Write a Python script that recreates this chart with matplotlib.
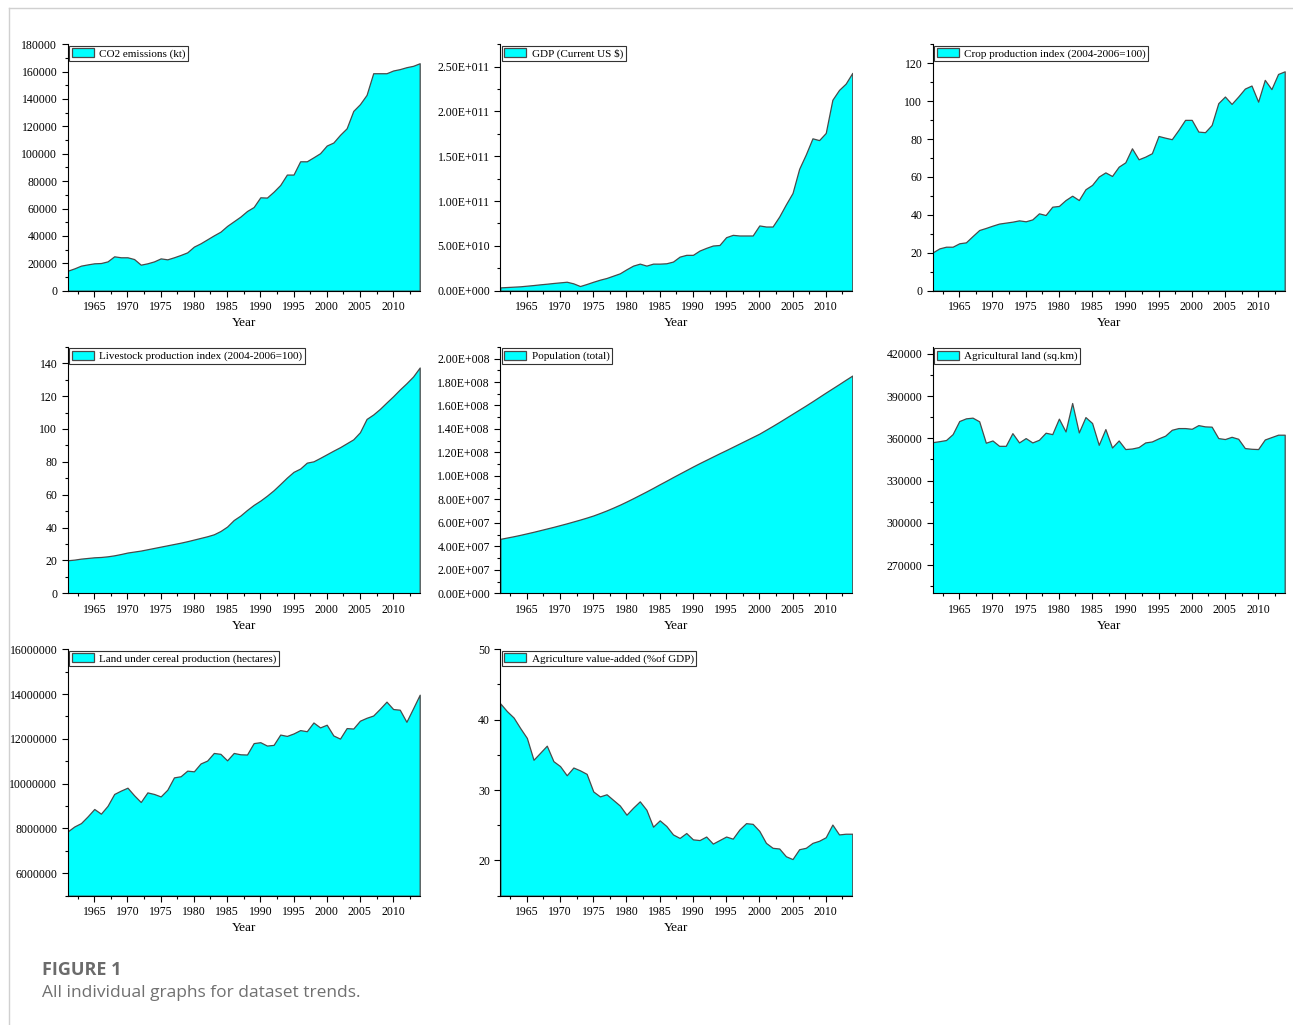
import matplotlib
matplotlib.use("Agg")
import matplotlib.pyplot as plt
from matplotlib.ticker import MultipleLocator, FuncFormatter
from matplotlib.lines import Line2D

years = list(range(1961, 2015))

co2 = [14600, 16300, 18300, 19200, 20000, 20200, 21400, 25100, 24400, 24400,
       23100, 19000, 20000, 21400, 23600, 22900, 24400, 26100, 28000, 32200,
       34600, 37500, 40400, 43100, 47300, 50700, 54100, 58200, 61100, 68200,
       68000, 72300, 77200, 84800, 84800, 94500, 94500, 97400, 100400, 106000,
       108200, 113800, 118600, 131300, 136200, 143000, 158800, 158800, 158800, 160800,
       161800, 163200, 164200, 166100]

gdp = [3.7e9, 4.1e9, 4.5e9, 4.9e9, 5.6e9, 6.3e9, 7.1e9, 7.8e9, 8.6e9, 9.3e9,
       1.0e10, 8.2e9, 5.2e9, 7.5e9, 1.0e10, 1.23e10, 1.42e10, 1.68e10, 1.94e10, 2.39e10,
       2.80e10, 3.02e10, 2.80e10, 3.02e10, 3.02e10, 3.06e10, 3.25e10, 3.80e10, 4.00e10, 4.00e10,
       4.48e10, 4.78e10, 5.04e10, 5.10e10, 5.97e10, 6.23e10, 6.16e10, 6.16e10, 6.16e10, 7.28e10,
       7.16e10, 7.16e10, 8.28e10, 9.63e10, 1.09e11, 1.36e11, 1.52e11, 1.70e11, 1.68e11, 1.76e11,
       2.13e11, 2.24e11, 2.31e11, 2.43e11]

crop = [20.2, 22.3, 23.2, 23.2, 25.0, 25.5, 28.8, 32.0, 33.1, 34.3,
        35.4, 35.9, 36.4, 37.1, 36.6, 37.6, 40.8, 39.9, 44.3, 44.7,
        47.8, 50.1, 47.8, 53.5, 55.8, 60.2, 62.4, 60.5, 65.4, 67.7,
        75.1, 69.3, 70.7, 72.5, 81.6, 80.7, 79.9, 84.8, 90.1, 90.1,
        83.9, 83.6, 87.4, 98.9, 102.4, 98.5, 102.4, 106.6, 108.2, 99.7,
        111.2, 106.3, 114.3, 115.7]

livestock = [20.1, 20.5, 21.1, 21.5, 21.9, 22.1, 22.5, 23.1, 23.9, 24.8,
             25.4, 26.0, 26.8, 27.6, 28.4, 29.2, 30.0, 30.8, 31.7, 32.7,
             33.7, 34.7, 35.9, 37.9, 40.6, 44.6, 47.3, 50.7, 53.8, 56.4,
             59.4, 62.7, 66.5, 70.4, 73.9, 75.9, 79.5, 80.3, 82.4, 84.6,
             86.8, 88.9, 91.3, 93.7, 98.0, 106.1, 108.8, 112.2, 116.1, 119.9,
             124.0, 127.8, 131.9, 137.4]

population = [46.4e6, 47.5e6, 48.6e6, 49.8e6, 51.1e6, 52.4e6, 53.8e6, 55.2e6, 56.6e6, 58.1e6,
              59.6e6, 61.2e6, 62.8e6, 64.5e6, 66.3e6, 68.4e6, 70.6e6, 73.0e6, 75.5e6, 78.2e6,
              81.0e6, 83.9e6, 86.8e6, 89.8e6, 92.9e6, 95.9e6, 99.0e6, 102.0e6, 105.0e6, 108.0e6,
              110.9e6, 113.7e6, 116.5e6, 119.3e6, 122.0e6, 124.8e6, 127.6e6, 130.4e6, 133.2e6, 136.0e6,
              139.3e6, 142.6e6, 146.0e6, 149.5e6, 153.0e6, 156.5e6, 160.0e6, 163.6e6, 167.3e6, 171.0e6,
              174.6e6, 178.2e6, 181.9e6, 185.5e6]

agri_land = [357300, 358000, 358800, 363000, 372300, 374200, 374700, 372100, 356900, 358500,
             354700, 354700, 363700, 357100, 360200, 357100, 359000, 364000, 363000, 374000,
             364900, 385100, 364200, 375100, 370900, 355400, 366600, 353500, 358500, 352400,
             352800, 353800, 357100, 357800, 360000, 361900, 366100, 367300, 367300, 366800,
             369400, 368500, 368300, 360200, 359500, 361100, 359700, 353100, 352600, 352400,
             359200, 360900, 362600, 362600]

cereal = [7.87e6, 8.09e6, 8.24e6, 8.54e6, 8.87e6, 8.66e6, 9.01e6, 9.54e6, 9.69e6, 9.82e6,
          9.48e6, 9.18e6, 9.61e6, 9.54e6, 9.43e6, 9.73e6, 10.28e6, 10.33e6, 10.58e6, 10.55e6,
          10.90e6, 11.03e6, 11.37e6, 11.33e6, 11.04e6, 11.37e6, 11.31e6, 11.30e6, 11.81e6, 11.85e6,
          11.70e6, 11.73e6, 12.19e6, 12.13e6, 12.24e6, 12.39e6, 12.34e6, 12.73e6, 12.51e6, 12.63e6,
          12.15e6, 12.01e6, 12.48e6, 12.46e6, 12.81e6, 12.94e6, 13.04e6, 13.34e6, 13.66e6, 13.33e6,
          13.30e6, 12.76e6, 13.36e6, 13.97e6]

agri_va = [42.3, 41.2, 40.3, 38.8, 37.4, 34.3, 35.3, 36.3, 34.1, 33.4,
           32.1, 33.2, 32.8, 32.3, 29.8, 29.1, 29.4, 28.6, 27.8, 26.5,
           27.5, 28.4, 27.2, 24.8, 25.7, 24.9, 23.7, 23.2, 23.9, 23.0,
           22.9, 23.4, 22.4, 22.9, 23.4, 23.1, 24.4, 25.3, 25.2, 24.2,
           22.5, 21.8, 21.7, 20.6, 20.2, 21.6, 21.8, 22.5, 22.8, 23.3,
           25.1, 23.7, 23.8, 23.8]

labels = ["CO2 emissions (kt)", "GDP (Current US $)", "Crop production index (2004-2006=100)",
          "Livestock production index (2004-2006=100)", "Population (total)", "Agricultural land (sq.km)",
          "Land under cereal production (hectares)", "Agriculture value-added (%of GDP)"]


def sci_fmt(v, pos):
    if v == 0:
        return "0.00E+000"
    s = "%.2E" % v
    m, e = s.split("E")
    return "%sE%s%03d" % (m, e[0], abs(int(e[1:])))


# (series, ylim, major ticks, minor step, sci formatter)
panels = [
    (co2, (0, 180000), range(0, 180001, 20000), 10000, False),
    (gdp, (0, 2.75e11), [0, 5e10, 1e11, 1.5e11, 2e11, 2.5e11], 2.5e10, True),
    (crop, (0, 130), range(0, 121, 20), 10, False),
    (livestock, (0, 150), range(0, 141, 20), 10, False),
    (population, (0, 2.1e8), [k * 2e7 for k in range(11)], 1e7, True),
    (agri_land, (250000, 425000), range(270000, 420001, 30000), 15000, False),
    (cereal, (5e6, 16e6), [6e6, 8e6, 10e6, 12e6, 14e6, 16e6], 1e6, False),
    (agri_va, (15, 50), [20, 30, 40, 50], 5, False),
]

plt.rcParams['font.family'] = ['Liberation Serif', 'DejaVu Serif']

fig = plt.figure(figsize=(12.93, 10.25), dpi=100)

lefts = [67.7, 500.3, 932.7]
bottoms = [290.7, 593.3, 895.7]
W, H = 1293.0, 1025.0

for i, (vals, ylim, ticks, minor, sci) in enumerate(panels):
    r, c = divmod(i, 3)
    ax = fig.add_axes([lefts[c] / W, 1 - bottoms[r] / H, 352 / W, 246.5 / H])
    ax.fill_between(years, vals, ylim[0], facecolor='#00ffff', edgecolor='#4a4a4a',
                    linewidth=0.9, label=labels[i].replace('$', r'\$'))
    ax.set_xlim(1961, 2014)
    ax.set_ylim(*ylim)
    ax.spines['top'].set_visible(False)
    ax.spines['right'].set_visible(False)
    ax.xaxis.set_major_locator(MultipleLocator(5))
    ax.xaxis.set_minor_locator(MultipleLocator(2.5))
    ax.set_yticks(list(ticks))
    ax.yaxis.set_minor_locator(MultipleLocator(minor))
    if sci:
        ax.yaxis.set_major_formatter(FuncFormatter(sci_fmt))
    else:
        ax.yaxis.set_major_formatter(FuncFormatter(lambda v, p: "%d" % round(v)))
    ax.tick_params(which='major', direction='out', length=4, width=0.8, labelsize=8.5)
    ax.tick_params(which='minor', direction='out', length=2.5, width=0.8)
    ax.set_xlabel("Year", fontsize=9.5, labelpad=3)
    leg = ax.legend(loc='upper left', fontsize=8, fancybox=False, framealpha=1,
                    edgecolor='#333333', borderaxespad=0.15, handlelength=2.0,
                    handleheight=0.9, borderpad=0.2, handletextpad=0.5)
    leg.get_frame().set_linewidth(0.8)

fig.add_artist(Line2D([9 / W, 1], [1 - 8 / H, 1 - 8 / H], color='#d0d0d0', lw=1))
fig.add_artist(Line2D([9 / W, 9 / W], [0, 1 - 8 / H], color='#d0d0d0', lw=1))

fig.text(42 / W, 1 - 970 / H, "FIGURE 1", fontsize=13, fontweight='bold', color='#6b6b6b',
         family=['Open Sans', 'DejaVu Sans'], va='center')
fig.text(42 / W, 1 - 993 / H, "All individual graphs for dataset trends.", fontsize=12.5,
         color='#707070', family=['Open Sans', 'DejaVu Sans'], va='center')

fig.savefig("out.png", dpi=100)
